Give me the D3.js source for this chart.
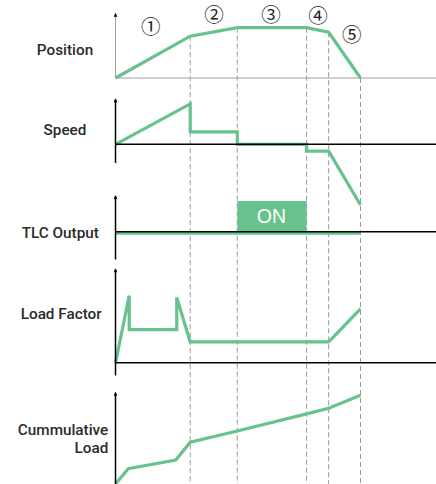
<!DOCTYPE html>
<html>
<head>
<meta charset="utf-8">
<script src="https://cdn.jsdelivr.net/npm/d3@7/dist/d3.min.js"></script>
<style>
  html, body { margin: 0; padding: 0; background: #fff; }
  svg { display: block; }
</style>
</head>
<body>
<script>
// ---------- DATA ----------
// phase boundaries (time units, 0..100)
const phaseTimes = [0, 30.5, 49.7, 78, 87, 100];
const phaseLabels = ["①", "②", "③", "④", "⑤"];
const phaseLabelTimes = [14.4, 40.2, 63.5, 82.7, 96.4];
const phaseLabelLevels = [81, 99.5, 99.5, 98, 68.5]; // in position units

const positionValues = [0, 64, 77, 77, 70, 0]; // at phaseTimes

const speedTimes  = [0, 30.5, 30.5, 49.7, 49.7, 78, 78, 87, 100];
const speedValues = [0, 88, 27, 27, 0, 0, -15, -15, -132];

const tlcTimes  = [0, 100];
const tlcValues = [-0.05, -0.05];
const tlcOnStart = 49.7, tlcOnEnd = 78, tlcOnValue = 1;
const tlcOnText = "ON";

const loadTimes  = [0, 5.6, 5.6, 25, 25, 30.5, 87, 100];
const loadValues = [0, 71, 35, 35, 69, 22, 22, 57];

const cumTimes  = [0, 5.2, 24.6, 30.5, 49.7, 78, 87, 100];
const cumValues = [0, 16.6, 26, 45.2, 57.4, 76, 82, 96.1];

const panelNames = ["Position", "Speed", "TLC Output", "Load Factor", ["Cummulative", "Load"]];

// ---------- LAYOUT ----------
const W = 436, H = 484;
const green = "#67c28d";
const x = d3.scaleLinear().domain([0, 100]).range([115.5, 360.5]);

const panels = [
  { key: "pos",   top: 12.7, zero: 78,    bottom: 78,    max: 100, axisColor: "#a0a0a0", axisW: 1,   xAxis: true },
  { key: "speed", top: 98.3, zero: 144.3, bottom: 163,   max: 100, axisColor: "#000",    axisW: 1.5, xAxis: true },
  { key: "tlc",   top: 195,  zero: 231.7, bottom: 259.5, max: 1.2, axisColor: "#000",    axisW: 1.5, xAxis: true },
  { key: "load",  top: 268.3,zero: 362.7, bottom: 375.5, max: 100, axisColor: "#000",    axisW: 1.5, xAxis: true },
  { key: "cum",   top: 391.7,zero: 484,   bottom: 484,   max: 100, axisColor: "#000",    axisW: 1.5, xAxis: false }
];
panels.forEach(p => { p.y = d3.scaleLinear().domain([0, p.max]).range([p.zero, p.top]); });
const P = Object.fromEntries(panels.map(p => [p.key, p]));

const labelLayout = [
  { x: 65,    ys: [55],   anchor: "middle" },
  { x: 65,    ys: [135],  anchor: "middle" },
  { x: 60.3,  ys: [237.7],anchor: "middle" },
  { x: 61.2,  ys: [319],  anchor: "middle" },
  { x: 108.3, ys: [434.8, 452.8], anchor: "end" }
];

const svg = d3.select("body").append("svg").attr("width", W).attr("height", H);

// ---------- dashed phase lines ----------
svg.append("g").selectAll("line")
  .data(phaseTimes.slice(1).map((t, i) => ({ t, v: positionValues[i + 1] })))
  .join("line")
  .attr("x1", d => x(d.t)).attr("x2", d => x(d.t))
  .attr("y1", d => P.pos.y(d.v)).attr("y2", H)
  .attr("stroke", "#9a9a9a").attr("stroke-width", 1)
  .attr("stroke-dasharray", "5,3");

// ---------- TLC ON block ----------
const tlcY = d3.scaleLinear().domain([0, tlcOnValue]).range([P.tlc.zero, 201]);
svg.append("rect")
  .attr("x", x(tlcOnStart)).attr("width", x(tlcOnEnd) - x(tlcOnStart))
  .attr("y", tlcY(tlcOnValue)).attr("height", tlcY(0) - tlcY(tlcOnValue))
  .attr("fill", green);
svg.append("text")
  .attr("x", (x(tlcOnStart) + x(tlcOnEnd)) / 2 - 0.5)
  .attr("y", 223.3)
  .attr("text-anchor", "middle")
  .attr("font-family", "Liberation Sans, Arial, sans-serif")
  .attr("font-size", 19.5)
  .attr("fill", "#fff")
  .text(tlcOnText);

// ---------- lines ----------
function drawLine(times, values, yScale) {
  const pts = times.map((t, i) => [t, values[i]]);
  svg.append("path")
    .datum(pts)
    .attr("fill", "none")
    .attr("stroke", green)
    .attr("stroke-width", 3.2)
    .attr("stroke-linejoin", "miter")
    .attr("d", d3.line().x(d => x(d[0])).y(d => yScale(d[1])));
}
drawLine(phaseTimes, positionValues, P.pos.y);
drawLine(speedTimes, speedValues, P.speed.y);
drawLine(tlcTimes, tlcValues, tlcY);
drawLine(loadTimes, loadValues, P.load.y);
drawLine(cumTimes, cumValues, P.cum.y);

// ---------- axes ----------
panels.forEach(p => {
  const g = svg.append("g");
  const x0 = x(0);
  g.append("line")
    .attr("x1", x0).attr("x2", x0)
    .attr("y1", p.top + 1).attr("y2", p.bottom)
    .attr("stroke", p.axisColor).attr("stroke-width", p.axisW);
  if (p.xAxis) {
    g.append("line")
      .attr("x1", x0).attr("x2", W)
      .attr("y1", p.zero).attr("y2", p.zero)
      .attr("stroke", p.axisColor).attr("stroke-width", p.axisW);
  }
  g.append("path")
    .attr("d", `M${x0 - 1.8},${p.top + 4} L${x0},${p.top} L${x0 + 1.8},${p.top + 4} Z`)
    .attr("fill", "#000");
});

// ---------- phase labels ----------
svg.append("g").selectAll("text")
  .data(phaseLabels)
  .join("text")
  .attr("x", (d, i) => x(phaseLabelTimes[i]))
  .attr("y", (d, i) => P.pos.y(phaseLabelLevels[i]))
  .attr("text-anchor", "middle")
  .attr("dominant-baseline", "central")
  .attr("font-family", "Noto Sans CJK JP, DejaVu Sans, sans-serif")
  .attr("font-size", 19.5)
  .attr("fill", "#222")
  .text(d => d);

// ---------- panel labels ----------
panelNames.forEach((name, i) => {
  const L = labelLayout[i];
  const lines = Array.isArray(name) ? name : [name];
  lines.forEach((ln, j) => {
    svg.append("text")
      .attr("x", L.x).attr("y", L.ys[j])
      .attr("text-anchor", L.anchor)
      .attr("font-family", "Roboto, Liberation Sans, Arial, sans-serif")
      .attr("font-weight", 500)
      .attr("font-size", 15.3)
      .attr("fill", "#2b2b2b")
      .text(ln);
  });
});
</script>
</body>
</html>
